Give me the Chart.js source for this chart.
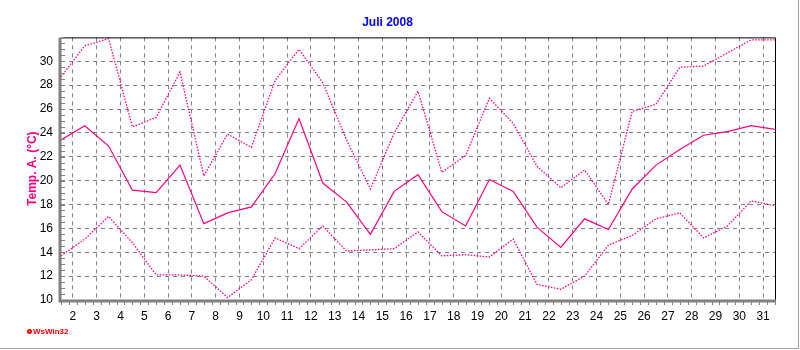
<!DOCTYPE html>
<html>
<head>
<meta charset="utf-8">
<title>Juli 2008</title>
<script src="https://cdn.jsdelivr.net/npm/chart.js@4.4.1/dist/chart.umd.min.js"></script>
<style>
    html, body { margin: 0; padding: 0; background: #fff; }
    #wrap { width: 800px; height: 350px; }
</style>
</head>
<body>
<div id="wrap"><canvas id="tempChart" width="800" height="350"></canvas></div>
<script>
// Daily values, July 2008 (day 1..31)
const days = [1, 2, 3, 4, 5, 6, 7, 8, 9, 10, 11, 12, 13, 14, 15, 16,
    17, 18, 19, 20, 21, 22, 23, 24, 25, 26, 27, 28, 29, 30, 31];
const maxTemp = [28.7, 31.3, 31.9, 24.5, 25.3, 29.1, 20.4, 23.9, 22.8, 28.4, 31.0,
    28.2, 23.4, 19.3, 24.0, 27.5, 20.7, 22.1, 26.9, 24.8, 21.2, 19.4, 20.9, 18.0,
    25.8, 26.4, 29.5, 29.6, 30.7, 31.8, 31.8];
const meanTemp = [23.4, 24.6, 22.9, 19.2, 19.0, 21.3, 16.4, 17.3, 17.8, 20.6, 25.2,
    19.8, 18.2, 15.5, 19.1, 20.5, 17.4, 16.2, 20.1, 19.1, 16.1, 14.4, 16.8, 15.9,
    19.3, 21.3, 22.6, 23.8, 24.1, 24.6, 24.3];
const minTemp = [13.7, 15.1, 17.0, 14.8, 12.1, 12.1, 12.0, 10.2, 11.7, 15.2, 14.3,
    16.2, 14.1, 14.2, 14.3, 15.7, 13.7, 13.8, 13.6, 15.1, 11.3, 10.9, 12.0, 14.6,
    15.4, 16.8, 17.3, 15.2, 16.2, 18.3, 17.9];
const xTicks = [2, 3, 4, 5, 6, 7, 8, 9, 10, 11, 12, 13, 14, 15, 16, 17, 18, 19,
    20, 21, 22, 23, 24, 25, 26, 27, 28, 29, 30, 31];
const yTicks = [10, 12, 14, 16, 18, 20, 22, 24, 26, 28, 30];

const LINE_COLOR = '#ff0080';
const GRID_COLOR = '#808080';
const FONT = '"Liberation Sans", Arial, sans-serif';

// each daily value sits in the middle of its day
function toPoints(values) {
    return values.map((v, i) => ({ x: days[i] + 0.5, y: v }));
}

// axis lines, minor ticks, frame and program tag
const framePlugin = {
    id: 'framePlugin',
    afterDatasetsDraw(chart) {
        const { ctx, chartArea: a, scales: { x, y } } = chart;
        ctx.save();
        ctx.setLineDash([]);

        // black top / right border
        ctx.strokeStyle = '#000';
        ctx.lineWidth = 1;
        ctx.beginPath();
        ctx.moveTo(a.left, a.top + 0.5);
        ctx.lineTo(a.right + 0.5, a.top + 0.5);
        ctx.lineTo(a.right + 0.5, a.bottom);
        ctx.stroke();

        // gray minor ticks
        ctx.strokeStyle = GRID_COLOR;
        ctx.lineWidth = 1;
        ctx.beginPath();
        for (let v = 10; v <= 32; v += 0.5) {
            const py = Math.round(y.getPixelForValue(v)) + 0.5;
            ctx.moveTo(a.left, py);
            ctx.lineTo(a.left + 4, py);
        }
        for (let v = 1.5; v <= 31.5; v += 1 / 3) {
            const px = Math.round(x.getPixelForValue(v)) + 0.5;
            ctx.moveTo(px, a.bottom);
            ctx.lineTo(px, a.bottom + 5);
        }
        ctx.stroke();

        // thick gray axes
        ctx.lineWidth = 3;
        ctx.beginPath();
        ctx.moveTo(a.left - 1, a.top);
        ctx.lineTo(a.left - 1, a.bottom + 1);
        ctx.lineTo(a.right + 1, a.bottom + 1);
        ctx.stroke();

        // image frame
        ctx.strokeStyle = '#a0a0a0';
        ctx.lineWidth = 1;
        ctx.beginPath();
        ctx.moveTo(0, 348.5);
        ctx.lineTo(798.5, 348.5);
        ctx.lineTo(798.5, 0);
        ctx.stroke();

        // program tag
        ctx.fillStyle = '#ff0000';
        ctx.beginPath();
        ctx.arc(29.5, 331.5, 2.5, 0, Math.PI * 2);
        ctx.fill();
        ctx.fillStyle = '#fff';
        ctx.fillRect(29, 331, 1, 1);
        ctx.fillStyle = '#ff0000';
        ctx.font = 'bold 8px ' + FONT;
        ctx.textBaseline = 'middle';
        ctx.fillText('WsWin32', 33, 332);
        ctx.restore();
    }
};

function init() {
    const canvas = document.getElementById('tempChart');

    new Chart(canvas, {
        type: 'line',
        data: {
            datasets: [
                {
                    label: 'Max',
                    data: toPoints(maxTemp),
                    borderColor: LINE_COLOR,
                    borderWidth: 1.3,
                    borderDash: [1.5, 1.5]
                },
                {
                    label: 'Mittel',
                    data: toPoints(meanTemp),
                    borderColor: LINE_COLOR,
                    borderWidth: 1.2
                },
                {
                    label: 'Min',
                    data: toPoints(minTemp),
                    borderColor: LINE_COLOR,
                    borderWidth: 1.3,
                    borderDash: [1.5, 1.5]
                }
            ]
        },
        options: {
            responsive: false,
            animation: false,
            layout: {
                padding: { top: 0, right: 25, bottom: 0, left: 0 }
            },
            elements: {
                point: { radius: 0 },
                line: { tension: 0 }
            },
            plugins: {
                legend: { display: false },
                tooltip: { enabled: false },
                title: {
                    display: true,
                    text: 'Juli 2008',
                    color: '#0000ff',
                    font: { family: FONT, size: 12, weight: 'bold' },
                    padding: { top: 15, bottom: 8 }
                }
            },
            scales: {
                x: {
                    type: 'linear',
                    min: 1.5,
                    max: 31.5,
                    afterBuildTicks: (scale) => {
                        scale.ticks = xTicks.map(v => ({ value: v }));
                    },
                    afterFit: (scale) => { scale.height = 50; },
                    grid: {
                        color: GRID_COLOR,
                        lineWidth: 1,
                        drawTicks: false
                    },
                    border: { display: false, dash: [4, 4] },
                    ticks: {
                        color: '#000',
                        padding: 9,
                        maxRotation: 0,
                        autoSkip: false,
                        font: { family: FONT, size: 12 }
                    }
                },
                y: {
                    min: 10,
                    max: 32,
                    afterBuildTicks: (scale) => {
                        scale.ticks = yTicks.map(v => ({ value: v }));
                    },
                    afterFit: (scale) => { scale.width = 61; },
                    grid: {
                        color: GRID_COLOR,
                        lineWidth: 1,
                        drawTicks: false
                    },
                    border: { display: false, dash: [4, 4] },
                    ticks: {
                        color: '#000',
                        padding: 8,
                        autoSkip: false,
                        font: { family: FONT, size: 12 }
                    },
                    title: {
                        display: true,
                        text: 'Temp. A. (°C)',
                        color: LINE_COLOR,
                        font: { family: FONT, size: 12, weight: 'bold' },
                        padding: { top: 25, bottom: 0 }
                    }
                }
            }
        },
        plugins: [framePlugin]
    });
}

document.addEventListener('DOMContentLoaded', init);
</script>
</body>
</html>
